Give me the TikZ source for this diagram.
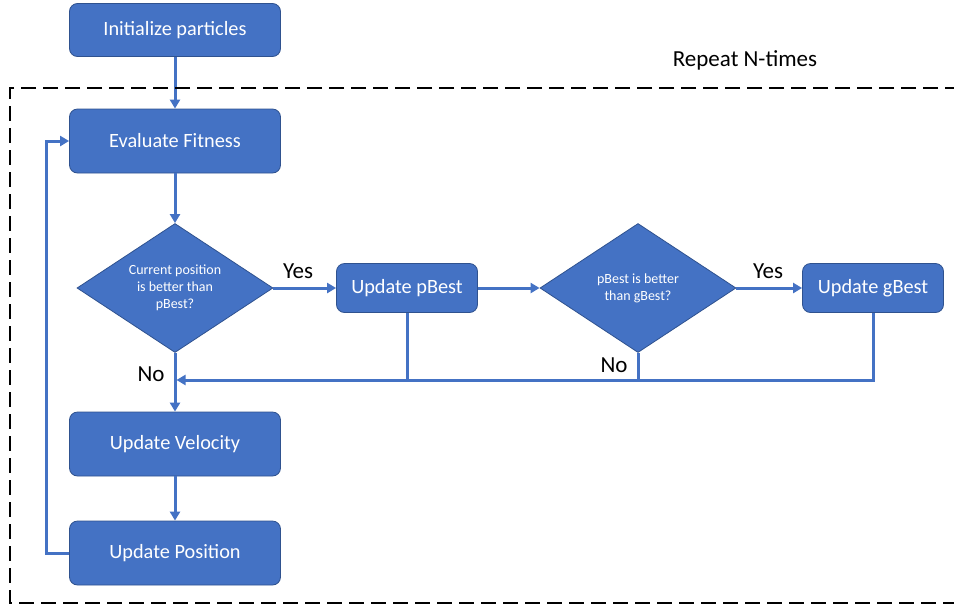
\documentclass[tikz,border=0pt]{standalone}
\usepackage{fontspec}
\setmainfont{Carlito}
\usepackage{xcolor}
\usepackage{tikz}
\usetikzlibrary{arrows.meta,shapes.geometric,positioning}
\definecolor{boxblue}{HTML}{4472C4}
\definecolor{boxedge}{HTML}{2F528F}

\begin{document}
\begin{tikzpicture}[x=1pt,y=-1pt,
  box/.style={draw=boxedge, fill=boxblue, rounded corners=8pt, text=white, line width=0.8pt, inner sep=0pt,
    font=\fontsize{20.3}{22}\selectfont, minimum width=211pt, minimum height=64pt},
  smallbox/.style={box, minimum width=141pt, minimum height=49pt},
  decision/.style={diamond, draw=boxedge, fill=boxblue, text=white, line width=0.8pt, inner sep=0pt, aspect=1.5,
    align=center, font=\fontsize{14}{17}\selectfont, minimum width=196pt, minimum height=129pt},
  link/.style={draw=boxblue, line width=3pt},
  flow/.style={link, -{Triangle[length=9pt,width=10pt]}},
  tag/.style={font=\fontsize{23}{25}\selectfont}]

\useasboundingbox (0,0) rectangle (954,606);

%boxes
\node[box, minimum height=53pt] (init) at (175,30) {Initialize particles};
\node[box] (fit) at (175,141) {Evaluate Fitness};
\node[decision] (cur) at (175,288) {Current position\\is better than\\pBest?};
\node[smallbox] (pbest) at (407,288) {Update pBest};
\node[decision] (glob) at (638,288) {pBest is better\\than gBest?};
\node[smallbox] (gbest) at (873,288) {Update gBest};
\node[box] (vel) at (175,444) {Update Velocity};
\node[box] (pos) at (175,553) {Update Position};
\coordinate (join) at (175,380);

%arrows
\draw[flow] (init) -- (fit);
\draw[flow] (fit) -- (cur);
\draw[flow] (cur) -- (pbest);
\draw[flow] (pbest) -- (glob);
\draw[flow] (glob) -- (gbest);
\draw[flow] (cur) -- (vel);
\draw[flow] (vel) -- (pos);
\draw[flow, shorten >=1.5pt] (gbest.south) |- (join);
\draw[link] (pbest.south) -- (pbest.south |- join);
\draw[link] (glob.south) -- (glob.south |- join);
\draw[flow] (pos.west) -- ++(-23,0) |- (fit.west);

%repeat frame
\draw[line width=1.6pt, dash pattern=on 15pt off 7pt] (960,88) -- (10,88) -- (10,603) -- (960,603);

%labels
\node[tag] (yes1) at (298,271) {Yes};
\node[tag] (yes2) at (768,271) {Yes};
\node[tag] (no1) at (151,374) {No};
\node[tag] (no2) at (614,365) {No};
\node[tag] (repeat) at (745,60) {Repeat N-times};
\end{tikzpicture}
\end{document}
